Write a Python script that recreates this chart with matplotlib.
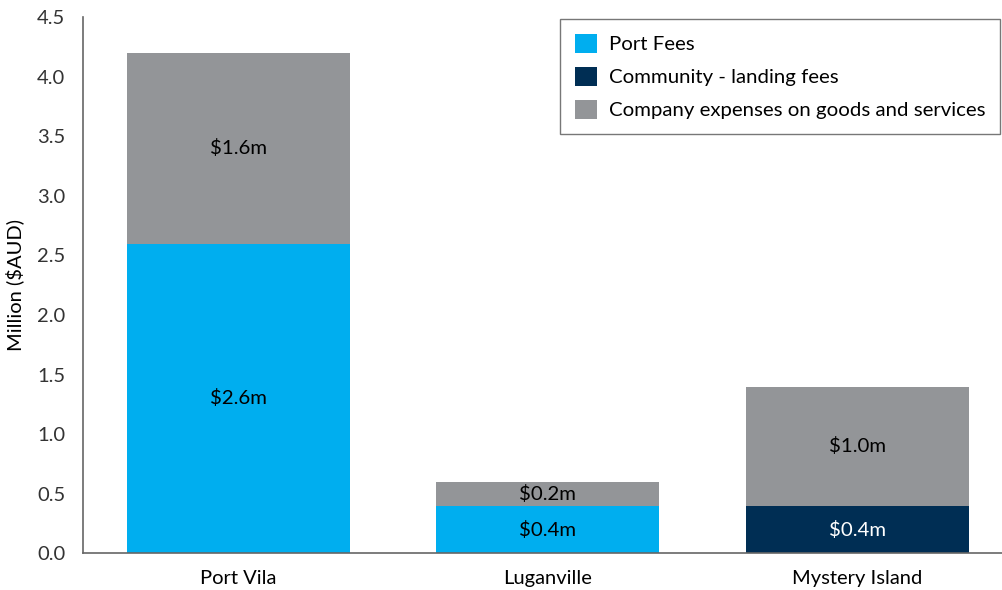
import matplotlib.pyplot as plt
import numpy as np

plt.rcParams['font.family'] = ['Lato', 'DejaVu Sans']

locations = ['Port Vila', 'Luganville', 'Mystery Island']
port_fees = [2.6, 0.4, 0.0]
community_fees = [0.0, 0.0, 0.4]
company_expenses = [1.6, 0.2, 1.0]

c_port = '#00AEEF'
c_comm = '#002E54'
c_comp = '#939598'

fig = plt.figure(figsize=(10.03, 5.9), dpi=100)
ax = fig.add_axes([0.083, 0.062, 0.917, 0.909])

x = np.arange(len(locations))
w = 0.72
port = np.array(port_fees)
comm = np.array(community_fees)
comp = np.array(company_expenses)

ax.bar(x, port, w, color=c_port, label='Port Fees')
ax.bar(x, comm, w, bottom=port, color=c_comm, label='Community - landing fees')
ax.bar(x, comp, w, bottom=port + comm, color=c_comp,
       label='Company expenses on goods and services')

# value labels in the middle of each segment
for i in range(len(locations)):
    base = 0
    for vals, txtcol in [(port, 'black'), (comm, 'white'), (comp, 'black')]:
        v = vals[i]
        if v > 0:
            ax.text(x[i], base + v / 2, '$%.1fm' % v, ha='center', va='center',
                    fontsize=14.7, color=txtcol)
        base += v

ax.set_xlim(-0.5, 2.47)
ax.set_ylim(0, 4.5)
ax.set_yticks(np.arange(0, 4.51, 0.5))
ax.set_yticklabels(['%.1f' % t for t in np.arange(0, 4.51, 0.5)])
ax.set_xticks(x)
ax.set_xticklabels(locations)
ax.tick_params(axis='both', length=0, labelsize=14.5, colors='#333333')
ax.tick_params(axis='x', pad=12, labelcolor='black')
ax.tick_params(axis='y', pad=13)
ax.set_ylabel('Million ($AUD)', fontsize=14.5, color='black', labelpad=9)

for s in ['top', 'right']:
    ax.spines[s].set_visible(False)
for s in ['left', 'bottom']:
    ax.spines[s].set_color('#666666')
    ax.spines[s].set_linewidth(1.2)

leg = ax.legend(loc='upper right', bbox_to_anchor=(0.997, 0.996), fontsize=14.7,
                fancybox=False, frameon=True, edgecolor='#555555',
                borderaxespad=0, handlelength=1.1, handleheight=1.1,
                borderpad=0.7, labelspacing=0.65, handletextpad=0.6)
leg.get_frame().set_linewidth(1.0)

fig.savefig('out.png', dpi=100)
